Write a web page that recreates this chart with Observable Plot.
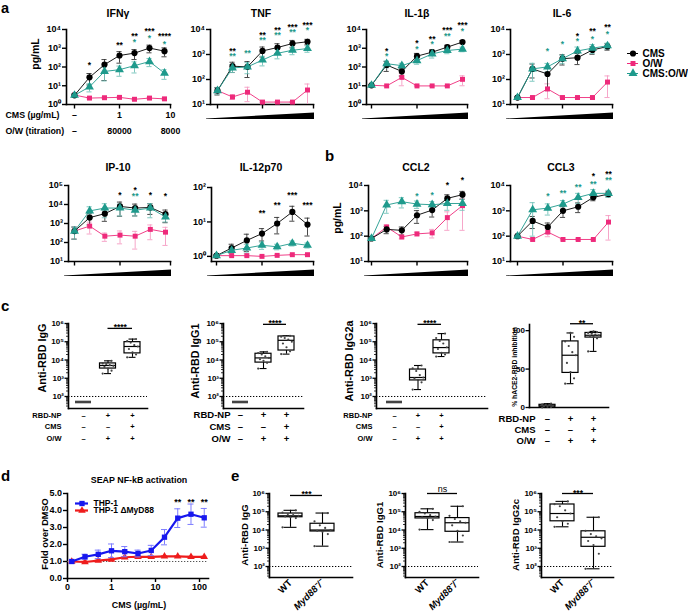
<!DOCTYPE html>
<html><head><meta charset="utf-8">
<script src="https://cdn.jsdelivr.net/npm/d3@7"></script>
<script src="https://cdn.jsdelivr.net/npm/@observablehq/plot@0.6"></script>
<style>
body{margin:0;background:#fff}
#fig{position:relative;width:688px;height:612px;overflow:hidden;background:#fff;font-family:"Liberation Sans",Arial,sans-serif}
#fig svg{position:absolute;overflow:visible}
</style></head><body><div id="fig"></div><script>
// ---------------- DATA ----------------
const SERIES_NAMES = ["CMS", "O/W", "CMS:O/W"];
const CMS_TICK_LABELS = ["–", "1", "10"];
const OW_TICK_LABELS = ["–", "80000", "8000"];

const IFNg = {
  CMS: [3.1, 28, 134, 410, 550, 1020, 700], CMSsem: [0.5, 17, 115, 250, 300, 450, 350],
  OW: [3.2, 2.2, 2.3, 2.4, 1.9, 2.2, 2.0], OWsem: [0.3, 0.2, 0.2, 0.2, 0.15, 0.2, 0.2],
  MIX: [3.1, 8.7, 58, 72, 118, 195, 47], MIXsem: [0.6, 4, 40, 40, 70, 90, 25],
  starsCMS: [[1, "*", 2.24], [3, "**", 3.31], [4, "**", 3.79], [5, "***", 4.05], [6, "****", 3.79]],
  starsMIX: [[4, "*", 3.45], [5, "*", 3.66], [6, "*", 3.34]]
};
const TNF = {
  CMS: [36, 340, 320, 1390, 1900, 2750, 3240], CMSsem: [12, 150, 200, 600, 800, 900, 800],
  OW: [36, 20, 31, 12.5, 12.5, 12.5, 38], OWsem: [8, 4, 18, 0.5, 0.5, 0.5, 28],
  MIX: [36, 290, 320, 600, 1120, 1480, 1730], MIXsem: [10, 100, 150, 250, 450, 500, 500],
  starsCMS: [[1, "**", 3.24], [3, "**", 3.87], [4, "**", 4.05], [5, "***", 4.2], [6, "***", 4.28]],
  starsMIX: [[1, "**", 3.02], [2, "**", 3.16], [3, "**", 3.66], [4, "**", 3.85], [5, "**", 3.98], [6, "*", 4.06]]
};
const IL1b = {
  CMS: [10.6, 128, 58, 380, 620, 1150, 2150], CMSsem: [1, 70, 25, 150, 200, 300, 400],
  OW: [10.6, 9.8, 28, 9.8, 9.8, 9.8, 22], OWsem: [0.5, 0.5, 18, 0.5, 0.5, 0.5, 12],
  MIX: [10.6, 150, 118, 220, 500, 760, 900], MIXsem: [1, 60, 40, 80, 200, 250, 250],
  starsCMS: [[1, "*", 2.95], [3, "*", 3.38], [4, "**", 3.59], [5, "***", 4.07], [6, "***", 4.34]],
  starsMIX: [[1, "*", 2.7], [3, "*", 3.07], [4, "*", 3.34], [5, "**", 3.77], [6, "*", 4.03]]
};
const IL6 = {
  CMS: [19, 265, 166, 680, 745, 1520, 2090], CMSsem: [2, 150, 130, 300, 350, 500, 600],
  OW: [19, 19, 42, 19, 19, 19, 79], OWsem: [0.5, 0.5, 25, 0.5, 0.5, 0.5, 60],
  MIX: [19, 265, 320, 680, 1390, 1790, 2230], MIXsem: [2, 180, 120, 250, 600, 700, 600],
  starsCMS: [[4, "*", 3.82], [5, "**", 4.02], [6, "**", 4.18]],
  starsMIX: [[2, "*", 3.24], [3, "*", 3.52], [4, "*", 3.62], [5, "*", 3.7], [6, "*", 3.9]]
};
const IP10 = {
  CMS: [400, 2040, 3300, 7900, 6500, 7000, 3100], CMSsem: [250, 1200, 2000, 5500, 4000, 4000, 2000],
  OW: [400, 730, 215, 245, 215, 490, 350], OWsem: [250, 450, 100, 160, 170, 350, 280],
  MIX: [400, 4600, 6500, 6500, 5000, 6500, 2200], MIXsem: [250, 3000, 4500, 4000, 2500, 4500, 1000],
  starsCMS: [[3, "*", 4.63], [4, "*", 4.86], [5, "*", 4.63], [6, "*", 4.57]],
  starsMIX: [[4, "**", 4.55]]
};
const IL12 = {
  CMS: [1.05, 1.75, 2.9, 4.6, 9.0, 19.5, 8.4], CMSsem: [0.05, 0.5, 1.5, 1.8, 4.5, 9, 4.5],
  OW: [1.05, 1.05, 1.05, 1.0, 1.07, 1.12, 1.12], OWsem: [0.03, 0.03, 0.03, 0.03, 0.03, 0.03, 0.03],
  MIX: [1.05, 1.5, 1.75, 2.1, 1.9, 2.4, 2.1], MIXsem: [0.05, 0.3, 0.5, 0.5, 0.35, 0.4, 0.35],
  starsCMS: [[3, "**", 1.32], [4, "**", 1.56], [5, "***", 1.85], [6, "***", 1.56]],
  starsMIX: []
};
const CCL2 = {
  CMS: [81, 185, 170, 670, 1070, 3100, 4350], CMSsem: [5, 60, 60, 350, 500, 1200, 1500],
  OW: [81, 230, 93, 123, 135, 540, 1600], OWsem: [5, 50, 15, 20, 50, 370, 1430],
  MIX: [81, 1700, 2300, 1850, 1740, 1950, 1950], MIXsem: [5, 900, 1000, 600, 600, 900, 900],
  starsCMS: [[5, "*", 4.12], [6, "*", 4.32]],
  starsMIX: [[3, "*", 3.68], [4, "*", 3.72]]
};
const CCL3 = {
  CMS: [100, 400, 230, 1000, 1450, 3400, 4600], CMSsem: [5, 200, 100, 450, 600, 900, 1000],
  OW: [100, 74, 145, 74, 74, 74, 360], OWsem: [5, 3, 50, 3, 3, 3, 290],
  MIX: [100, 1100, 1280, 1850, 3400, 4900, 4900], MIXsem: [5, 1000, 600, 700, 1500, 2000, 1500],
  starsCMS: [[5, "*", 4.46], [6, "**", 4.54]],
  starsMIX: [[2, "*", 3.68], [3, "**", 3.8], [4, "**", 4.04], [5, "**", 4.14], [6, "**", 4.3]]
};

// panel c (box summaries: min, q1, median, q3, max) and individual points
const C_ROW_NAMES = ["RBD-NP", "CMS", "O/W"];
const C_ROW_RBD = ["–", "+", "+"];
const C_ROW_CMS = ["–", "–", "+"];
const C_ROW_OW = ["–", "+", "+"];
const cIgG = {
  stats: [[50, 50, 50, 50, 50], [1800, 3400, 5000, 6500, 9000], [1.4e4, 2.3e4, 5.5e4, 9.5e4, 1.4e5]],
  dots: [[50, 50, 50, 50, 50, 50, 50, 50], [1800, 2600, 3400, 4200, 4800, 5200, 6000, 6500, 9000], [1.4e4, 2e4, 2.6e4, 4e4, 5.5e4, 6.5e4, 9e4, 1.1e5, 1.4e5]],
  sig: [1, 2, 5.4e5, "****"]
};
const cIgG1 = {
  stats: [[50, 50, 50, 50, 50], [3400, 7200, 1.3e4, 2.2e4, 2.8e4], [2.1e4, 3.3e4, 1.2e5, 1.95e5, 2.1e5]],
  dots: [[50, 50, 50, 50, 50, 50, 50, 50], [3400, 7000, 9000, 1.1e4, 1.3e4, 1.6e4, 2e4, 2.4e4, 2.8e4], [2.1e4, 3e4, 5e4, 8e4, 1e5, 1.3e5, 1.6e5, 1.9e5, 2.1e5]],
  sig: [1, 2, 9e5, "****"]
};
const cIgG2a = {
  stats: [[50, 50, 50, 50, 50], [240, 760, 1100, 3000, 5000], [1.55e4, 2.3e4, 4.8e4, 1.2e5, 2.8e5]],
  dots: [[50, 50, 50, 50, 50, 50, 50, 50], [240, 600, 800, 1000, 1100, 1500, 2500, 3500, 5000], [1.55e4, 2e4, 2.5e4, 4e4, 5e4, 8e4, 1.1e5, 1.6e5, 2.8e5]],
  sig: [1, 2, 9e5, "****"]
};
const cACE2 = {
  stats: [[0, 1, 2, 3.5, 5], [31, 45, 68, 86, 97], [73, 91, 94, 97, 99]],
  dots: [[0, 0.5, 1, 1.5, 2, 3, 3.5, 4, 5], [31, 38, 46, 58, 68, 72, 80, 86, 92, 97], [73, 90, 92, 93, 94, 95, 96, 97, 98, 99]],
  sig: [1, 2, 109, "**"]
};

// panel d
const SEAP_CONC = [0.125, 0.25, 0.5, 1, 2, 4, 8, 16, 32, 64, 128];
const SEAP_THP1 = [1.0, 1.28, 1.42, 1.63, 1.58, 1.47, 1.65, 2.43, 3.55, 3.78, 3.57];
const SEAP_THP1_SEM = [0.08, 0.15, 0.25, 0.4, 0.3, 0.2, 0.3, 0.45, 0.55, 0.6, 0.55];
const SEAP_MYD = [1.0, 0.97, 1.05, 1.12, 1.25, 1.28, 1.27, 1.3, 1.3, 1.27, 1.27];
const SEAP_MYD_SEM = [0.03, 0.05, 0.05, 0.08, 0.05, 0.05, 0.05, 0.05, 0.05, 0.04, 0.04];
const SEAP_STARS = [[32, "**"], [64, "**"], [128, "**"]];
const SEAP_STAR_LEVEL = 4.65;
const SEAP_NAMES = ["THP-1", "THP-1 ΔMyD88"];

// panel e
const E_GROUPS = ["WT", "Myd88⁻/⁻"];
const eIgG = {
  stats: [[1.4e4, 5e4, 6e4, 8e4, 1.2e5], [1300, 8300, 1e4, 2.2e4, 8.5e4]],
  dots: [[1.4e4, 4.5e4, 5e4, 5.5e4, 6e4, 6.5e4, 7.5e4, 9e4, 1.2e5], [1300, 6000, 8000, 9000, 1e4, 1.3e4, 1.8e4, 3e4, 8.5e4]],
  sig: [0, 1, 7.8e5, "***"]
};
const eIgG1 = {
  stats: [[1.05e4, 4.3e4, 5.5e4, 8.3e4, 1.45e5], [2200, 8000, 2.5e4, 4.5e4, 2e5]],
  dots: [[1.05e4, 3.5e4, 4.5e4, 5e4, 5.5e4, 6.5e4, 8e4, 1e5, 1.45e5], [2200, 5000, 9000, 1.8e4, 2.5e4, 3e4, 4e4, 6e4, 2e5]],
  sig: [0, 1, 1e6, "ns"]
};
const eIgG2c = {
  stats: [[1.5e4, 3e4, 8e4, 2.5e5, 3.7e5], [75, 1200, 4000, 8500, 5e4]],
  dots: [[1.5e4, 2.2e4, 3e4, 5e4, 8e4, 1.2e5, 2e5, 2.6e5, 3.7e5], [75, 500, 1500, 2500, 3500, 4500, 6000, 9000, 5e4]],
  sig: [0, 1, 1e6, "***"]
};

// ---------------- STYLE / LAYOUT ----------------
const FONT = "'Liberation Sans', Arial, Helvetica, sans-serif";
const SER = [
  {key: "OW", name: "O/W", color: "#ee2a7b", err: "#f59cc3", symbol: "square", r: 2.8},
  {key: "CMS", name: "CMS", color: "#000000", err: "#333333", symbol: "circle", r: 3.1},
  {key: "MIX", name: "CMS:O/W", color: "#1e9a8c", err: "#72c2b9", symbol: "triangle", r: 3.3}
];
const SUP = {"0": "⁰", "1": "¹", "2": "²", "3": "³", "4": "⁴", "5": "⁵", "6": "⁶", "-": "⁻"};
const pow10 = d => "10" + String(Math.round(Math.log10(d))).split("").map(c => SUP[c]).join("");
function logTicks(lo, hi) { const t = []; for (let e = -2; e <= 8; e++) { const v = 10 ** e; if (v >= lo * 0.999 && v <= hi * 1.001) t.push(v); } return t; }
function minorTicks(lo, hi) { const t = []; for (let e = -1; e < 8; e++) for (let m = 2; m < 10; m++) { const v = m * 10 ** e; if (v >= lo && v <= hi) t.push(v); } return t; }

const fig = document.getElementById("fig");
const over = d3.select(fig).append("svg").attr("width", 688).attr("height", 612).style("left", "0px").style("top", "0px")
  .attr("font-family", FONT);
function T(text, x, y, o = {}) {
  const t = over.append("text").attr("x", x).attr("y", y).attr("text-anchor", o.anchor || "middle")
    .attr("font-size", o.size || 10).attr("font-weight", o.weight || "bold").text(text);
  if (!o.baseline) t.attr("dominant-baseline", "central");
  if (o.rotate) t.attr("transform", `rotate(${o.rotate},${x},${y})`);
  return t;
}
function place(svg, left, top) { svg.style.left = left + "px"; svg.style.top = top + "px"; fig.appendChild(svg); }
const baseStyle = {fontFamily: FONT, fontWeight: "bold", background: "transparent", overflow: "visible", color: "#000"};

// ---------------- LINE PANELS (a, b) ----------------
function linePanel(P, domain, L, extra = []) {
  const ml = 44, mr = 12, mt = 26, mb = 40;
  const W = L.right - L.axisX + ml + mr, H = L.bottom - L.top + mt + mb;
  const xEnd = 6 * (L.right - L.x0) / (L.x6 - L.x0);
  const y0 = domain[0];
  const lo = d => Math.max(y0, d.v - d.sem), hi = d => d.v + d.sem;
  const cap = 0.17;
  const marks = [
    Plot.frame({anchor: "left", strokeWidth: 1.6}),
    Plot.frame({anchor: "bottom", strokeWidth: 1.6}),
    Plot.axisY({ticks: logTicks(...domain), tickFormat: pow10, tickSize: 4, tickPadding: 1.5, fontSize: 9, strokeWidth: 1.4, label: null}),
    Plot.axisX({ticks: [0, 3, xEnd], tickFormat: () => "", tickSize: 4.5, strokeWidth: 1.4, label: null})
  ];
  const rows = {};
  for (const s of SER) rows[s.key] = P[s.key].map((v, i) => ({i, v, sem: P[s.key + "sem"][i]}));
  for (const s of SER) {
    const r = rows[s.key];
    marks.push(
      Plot.ruleX(r, {x: "i", y1: lo, y2: hi, stroke: s.err, strokeWidth: 0.9}),
      Plot.ruleY(r, {y: hi, x1: d => d.i - cap, x2: d => d.i + cap, stroke: s.err, strokeWidth: 0.9}),
      Plot.ruleY(r.filter(d => d.v - d.sem > y0), {y: lo, x1: d => d.i - cap, x2: d => d.i + cap, stroke: s.err, strokeWidth: 0.9})
    );
  }
  for (const s of SER) {
    marks.push(
      Plot.line(rows[s.key], {x: "i", y: "v", stroke: s.color, strokeWidth: 0.9}),
      Plot.dot(rows[s.key], {x: "i", y: "v", symbol: s.symbol, r: s.r, fill: s.color, stroke: "none"})
    );
  }
  marks.push(
    Plot.text(P.starsCMS, {x: d => d[0], y: d => 10 ** d[2], text: d => d[1], fill: "#000", fontSize: 8.5, dy: 2.5}),
    Plot.text(P.starsMIX, {x: d => d[0], y: d => 10 ** d[2], text: d => d[1], fill: SER[2].color, fontSize: 8.5, dy: 2.5})
  );
  for (const m of extra) marks.push(m(xEnd));
  const svg = Plot.plot({
    width: W, height: H, marginLeft: ml, marginRight: mr, marginTop: mt, marginBottom: mb,
    x: {domain: [0, 6], range: [L.x0 - L.axisX + ml, L.x6 - L.axisX + ml], axis: null},
    y: {type: "log", domain, axis: null},
    style: baseStyle, marks
  });
  place(svg, L.axisX - ml, L.top - mt);
}
function wedge(L) {
  over.append("polygon").attr("fill", "#000").attr("points",
    [[L.axisX - 4, L.bottom + 14.5], [L.right + 1, L.bottom + 8.5], [L.right + 1, L.bottom + 15], [L.axisX - 4, L.bottom + 15]].map(p => p.join(",")).join(" "));
}

const LA = {
  IFNg: {axisX: 66, x0: 74, x6: 164, right: 170, top: 29, bottom: 104},
  TNF: {axisX: 210, x0: 217, x6: 307, right: 313, top: 29, bottom: 104},
  IL1b: {axisX: 366, x0: 371, x6: 462, right: 467, top: 29, bottom: 104},
  IL6: {axisX: 510, x0: 517, x6: 607, right: 612, top: 29, bottom: 104},
  IP10: {axisX: 68, x0: 74, x6: 165, right: 170, top: 185, bottom: 261},
  IL12: {axisX: 211, x0: 216, x6: 307, right: 313, top: 187, bottom: 261},
  CCL2: {axisX: 368, x0: 371, x6: 462, right: 467, top: 185, bottom: 261},
  CCL3: {axisX: 510, x0: 517, x6: 608, right: 612, top: 185, bottom: 261}
};

const ifngRows = [
  xEnd => Plot.text([0, 3, xEnd], {x: d => d, text: (d, i) => CMS_TICK_LABELS[i], frameAnchor: "bottom", dy: 13, fontSize: 8.8}),
  xEnd => Plot.text([0, 3, xEnd], {x: d => d, text: (d, i) => OW_TICK_LABELS[i], frameAnchor: "bottom", dy: 29, fontSize: 8.8}),
  () => Plot.text(["CMS (µg/mL)"], {text: d => d, frameAnchor: "bottom-left", dx: -61, dy: 13, textAnchor: "start", fontSize: 8.8}),
  () => Plot.text(["O/W (titration)"], {text: d => d, frameAnchor: "bottom-left", dx: -61, dy: 29, textAnchor: "start", fontSize: 8.8})
];
linePanel(IFNg, [1, 1e4], LA.IFNg, ifngRows);
linePanel(TNF, [10, 1e4], LA.TNF);
linePanel(IL1b, [1, 1e4], LA.IL1b);
linePanel(IL6, [10, 1e4], LA.IL6);
linePanel(IP10, [10, 1e5], LA.IP10);
linePanel(IL12, [0.71, 100], LA.IL12);
linePanel(CCL2, [10, 1e4], LA.CCL2);
linePanel(CCL3, [10, 1e4], LA.CCL3);
["TNF", "IL1b", "IL6", "IP10", "IL12", "CCL2", "CCL3"].forEach(k => wedge(LA[k]));

// legend a
(function () {
  const order = [SER[1], SER[0], SER[2]];
  const marks = [];
  for (const s of order) {
    marks.push(
      Plot.ruleY([s.name], {y: d => d, x1: 0, x2: 1, stroke: s.color, strokeWidth: 1}),
      Plot.dot([s.name], {x: 0.5, y: d => d, symbol: s.symbol, r: s.r, fill: s.color}),
      Plot.text([s.name], {x: 1, y: d => d, text: d => d, dx: 4, textAnchor: "start", fontSize: 10})
    );
  }
  const svg = Plot.plot({width: 70, height: 48, margin: 0,
    x: {domain: [0, 1], range: [5, 16], axis: null},
    y: {type: "point", domain: SERIES_NAMES, range: [8, 40], axis: null},
    style: baseStyle, marks});
  place(svg, 622, 39);
})();

// ---------------- BOX PANELS (c, e) ----------------
function boxPanel(B, L, o) {
  const ml = 36, mr = 10, mt = 16, mb = 48;
  const W = L.right - L.axisX + ml + mr, H = L.bottom - L.top + mt + mb;
  const n = B.stats.length;
  const unit = (L.cN - L.c0) / (n - 1);
  const hw = L.hw / unit, cw = L.cap / unit;
  const st = B.stats.map((s, g) => ({g, min: s[0], q1: s[1], med: s[2], q3: s[3], max: s[4]}));
  const dots = B.dots.flatMap((arr, g) => arr.map((v, k) => ({g, v, k})));
  const isLog = o.type === "log";
  const marks = [
    Plot.frame({anchor: "left", strokeWidth: 1.6}),
    Plot.frame({anchor: "bottom", strokeWidth: 1.6})
  ];
  if (isLog) {
    marks.push(
      Plot.axisY({ticks: logTicks(...o.domain), tickFormat: pow10, tickSize: 3.5, tickPadding: 1, fontSize: o.tickFont, strokeWidth: 1.3, label: null}),
      Plot.axisY({ticks: minorTicks(...o.domain), tickFormat: () => "", tickSize: 2, strokeWidth: 0.8, label: null})
    );
  } else {
    marks.push(Plot.axisY({ticks: o.ticks, tickSize: 3.5, tickPadding: 1, fontSize: o.tickFont, strokeWidth: 1.3, label: null}));
  }
  if (o.dotted) marks.push(Plot.ruleY([o.dotted], {strokeDasharray: "1.3,1.7", strokeWidth: 1}));
  const box = st.filter(d => d.q3 > d.q1), flat = st.filter(d => d.q3 <= d.q1);
  marks.push(
    Plot.ruleX(box, {x: "g", y1: "min", y2: "q1", strokeWidth: 1.1}),
    Plot.ruleX(box, {x: "g", y1: "q3", y2: "max", strokeWidth: 1.1}),
    Plot.ruleY(box, {y: "min", x1: d => d.g - cw, x2: d => d.g + cw, strokeWidth: 1.1}),
    Plot.ruleY(box, {y: "max", x1: d => d.g - cw, x2: d => d.g + cw, strokeWidth: 1.1}),
    Plot.rect(box, {x1: d => d.g - hw, x2: d => d.g + hw, y1: "q1", y2: "q3", fill: "white", stroke: "black", strokeWidth: 1.2}),
    Plot.ruleY(box, {y: "med", x1: d => d.g - hw, x2: d => d.g + hw, strokeWidth: 1.2}),
    Plot.ruleY(flat, {y: "med", x1: d => d.g - hw, x2: d => d.g + hw, strokeWidth: 2.6, stroke: "#444"}),
    Plot.dot(dots.filter(d => box.some(b => b.g === d.g)), {x: d => d.g + (((d.k * 5) % 7) - 3) * hw / 4.5, y: "v", r: 1.1, fill: "#444"}),
    Plot.ruleY([B.sig], {y: d => d[2], x1: d => d[0], x2: d => d[1], strokeWidth: 1.3}),
    Plot.text([B.sig], {x: d => (d[0] + d[1]) / 2, y: d => d[2], text: d => d[3], lineAnchor: "bottom", dy: B.sig[3] === "ns" ? -2 : 2, fontSize: B.sig[3] === "ns" ? 9 : 8.5, fontWeight: B.sig[3] === "ns" ? "normal" : "bold"})
  );
  if (o.rows) {
    const rs = [C_ROW_RBD, C_ROW_CMS, C_ROW_OW];
    rs.forEach((row, j) => {
      marks.push(Plot.text([0, 1, 2], {x: d => d, text: d => row[d], frameAnchor: "bottom", dy: o.rowDy[j], fontSize: o.rowFont}));
      marks.push(Plot.text([C_ROW_NAMES[j]], {text: d => d, frameAnchor: "bottom-left", dx: o.headDx, dy: o.rowDy[j], textAnchor: "end", fontSize: o.rowFont}));
    });
  }
  if (o.groups) {
    marks.push(
      Plot.text([0], {x: d => d, text: d => E_GROUPS[d], frameAnchor: "bottom", dy: 6, dx: 2, rotate: -45, textAnchor: "end", fontSize: 9.5}),
      Plot.text([1], {x: d => d, text: d => E_GROUPS[d], frameAnchor: "bottom", dy: 6, dx: 2, rotate: -45, textAnchor: "end", fontSize: 9.5, fontStyle: "italic"})
    );
  }
  const svg = Plot.plot({
    width: W, height: H, marginLeft: ml, marginRight: mr, marginTop: mt, marginBottom: mb,
    x: {domain: [0, n - 1], range: [L.c0 - L.axisX + ml, L.cN - L.axisX + ml], axis: null},
    y: isLog ? {type: "log", domain: o.domain, axis: null} : {domain: o.domain, axis: null},
    style: baseStyle, marks
  });
  place(svg, L.axisX - ml, L.top - mt);
}
const LOGD = [22, 1e6];
boxPanel(cIgG, {axisX: 68, right: 147, top: 323, bottom: 408, c0: 83, cN: 132, hw: 8, cap: 3.5},
  {type: "log", domain: LOGD, tickFont: 8, dotted: 100, rows: true, rowDy: [9, 20, 32], rowFont: 7.5, headDx: -7});
boxPanel(cIgG1, {axisX: 223, right: 303, top: 323, bottom: 408, c0: 240, cN: 286, hw: 8, cap: 3.5},
  {type: "log", domain: LOGD, tickFont: 8, dotted: 100, rows: true, rowDy: [9, 21, 33], rowFont: 9.5, headDx: 7});
boxPanel(cIgG2a, {axisX: 376, right: 487, top: 323, bottom: 408, c0: 394, cN: 441, hw: 8, cap: 3.5},
  {type: "log", domain: LOGD, tickFont: 8, dotted: 100, rows: true, rowDy: [9, 20, 32], rowFont: 7.5, headDx: -4});
boxPanel(cACE2, {axisX: 529, right: 608, top: 324, bottom: 407, c0: 547, cN: 593, hw: 8, cap: 3.5},
  {type: "linear", domain: [0, 108], ticks: [0, 50, 100], tickFont: 8, rows: true, rowDy: [14, 25, 36], rowFont: 9.5, headDx: 6});
const LOGE = [25, 1e6];
boxPanel(eIgG, {axisX: 269, right: 352, top: 493, bottom: 577, c0: 290, cN: 322, hw: 12, cap: 6.5},
  {type: "log", domain: LOGE, tickFont: 8, dotted: 100, groups: true});
boxPanel(eIgG1, {axisX: 405, right: 478, top: 493, bottom: 577, c0: 427, cN: 457, hw: 12, cap: 6.5},
  {type: "log", domain: LOGE, tickFont: 8, dotted: 100, groups: true});
boxPanel(eIgG2c, {axisX: 541, right: 613, top: 493, bottom: 577, c0: 562, cN: 593, hw: 12, cap: 6.5},
  {type: "log", domain: LOGE, tickFont: 8, dotted: 100, groups: true});

// ---------------- PANEL d ----------------
(function () {
  const L = {axisX: 67, right: 208, top: 493, bottom: 578};
  const ml = 30, mr = 10, mt = 14, mb = 20;
  const W = L.right - L.axisX + ml + mr, H = L.bottom - L.top + mt + mb;
  const blue = {v: SEAP_THP1, sem: SEAP_THP1_SEM, color: "#1717ee", err: "#7d7dff", symbol: "square", r: 3};
  const red = {v: SEAP_MYD, sem: SEAP_MYD_SEM, color: "#ee1c1c", err: "#ff8a8a", symbol: "triangle", r: 2.8};
  const marks = [
    Plot.frame({anchor: "left", strokeWidth: 1.6}),
    Plot.frame({anchor: "bottom", strokeWidth: 1.6}),
    Plot.axisY({ticks: [0, 1, 2, 3, 4, 5], tickSize: 4, tickPadding: 1.5, fontSize: 9, strokeWidth: 1.4, label: null}),
    Plot.axisX({ticks: [0.1, 1, 10, 100], tickFormat: d => d < 0.5 ? "0" : String(d), tickSize: 4, tickPadding: 1.5, fontSize: 9, strokeWidth: 1.4, label: null}),
    Plot.ruleY([1], {strokeDasharray: "1.3,1.7", strokeWidth: 1, stroke: "#555"})
  ];
  for (const s of [red, blue]) {
    const r = SEAP_CONC.map((c, i) => ({c, v: s.v[i], sem: s.sem[i]}));
    marks.push(
      Plot.ruleX(r, {x: "c", y1: d => d.v - d.sem, y2: d => d.v + d.sem, stroke: s.err, strokeWidth: 1}),
      Plot.ruleY(r, {y: d => d.v + d.sem, x1: d => d.c / 1.17, x2: d => d.c * 1.17, stroke: s.err, strokeWidth: 1}),
      Plot.ruleY(r, {y: d => d.v - d.sem, x1: d => d.c / 1.17, x2: d => d.c * 1.17, stroke: s.err, strokeWidth: 1}),
      Plot.line(r, {x: "c", y: "v", stroke: s.color, strokeWidth: 2.2}),
      Plot.dot(r, {x: "c", y: "v", symbol: s.symbol, r: s.r, fill: s.color})
    );
  }
  marks.push(Plot.text(SEAP_STARS, {x: d => d[0], y: SEAP_STAR_LEVEL, text: d => d[1], fontSize: 9, dy: 2.5}));
  const svg = Plot.plot({
    width: W, height: H, marginLeft: ml, marginRight: mr, marginTop: mt, marginBottom: mb,
    x: {type: "log", domain: [0.1, 160], axis: null},
    y: {domain: [0, 5], axis: null},
    style: baseStyle, marks
  });
  place(svg, L.axisX - ml, L.top - mt);
  // legend d
  const lg = [[SEAP_NAMES[0], blue], [SEAP_NAMES[1], red]];
  const lmarks = [];
  for (const [name, s] of lg) {
    lmarks.push(
      Plot.ruleY([name], {y: d => d, x1: 0, x2: 1, stroke: s.color, strokeWidth: 2.2}),
      Plot.dot([name], {x: 0.5, y: d => d, symbol: s.symbol, r: s.r, fill: s.color}),
      Plot.text([name], {x: 1, y: d => d, text: d => d, dx: 5, textAnchor: "start", fontSize: 8.5})
    );
  }
  const lsvg = Plot.plot({width: 100, height: 30, margin: 0,
    x: {domain: [0, 1], range: [5, 18], axis: null},
    y: {type: "point", domain: SEAP_NAMES, range: [8, 22], axis: null},
    style: baseStyle, marks: lmarks});
  place(lsvg, 70, 491);
})();

// ---------------- TEXT ----------------
T("a", 1, 13, {size: 14.5, anchor: "start", baseline: true});
T("b", 325, 161, {size: 15, anchor: "start", baseline: true});
T("c", 1, 311, {size: 15, anchor: "start", baseline: true});
T("d", 1, 481, {size: 15, anchor: "start", baseline: true});
T("e", 231, 481, {size: 15, anchor: "start", baseline: true});
T("IFNγ", 118, 13, {size: 10.5}); T("TNF", 261, 13, {size: 10.5});
T("IL-1β", 417, 13, {size: 10.5}); T("IL-6", 562, 13, {size: 10.5});
T("IP-10", 118, 167, {size: 10.5}); T("IL-12p70", 261, 167, {size: 10.5});
T("CCL2", 416, 167, {size: 10.5}); T("CCL3", 561, 167, {size: 10.5});
T("pg/mL", 35, 54, {size: 10.5, rotate: -90});
T("pg/mL", 337, 218, {size: 10.5, rotate: -90});
T("Anti-RBD IgG", 42, 358, {size: 10.8, rotate: -90});
T("Anti-RBD IgG1", 195, 361, {size: 10.8, rotate: -90});
T("Anti-RBD IgG2a", 349, 361, {size: 10.8, rotate: -90});
T("% hACE2-RBD inhibition", 514, 367, {size: 6.8, rotate: -90});
T("SEAP NF-kB activation", 139, 480, {size: 8.9});
T("CMS (µg/mL)", 139, 605, {size: 8.9});
T("Fold over DMSO", 45, 534, {size: 9.2, rotate: -90});
T("Anti-RBD IgG", 244, 535, {size: 9.6, rotate: -90});
T("Anti-RBD IgG1", 379, 535, {size: 9.6, rotate: -90});
T("Anti-RBD IgG2c", 515, 535, {size: 9.6, rotate: -90});
</script></body></html>
